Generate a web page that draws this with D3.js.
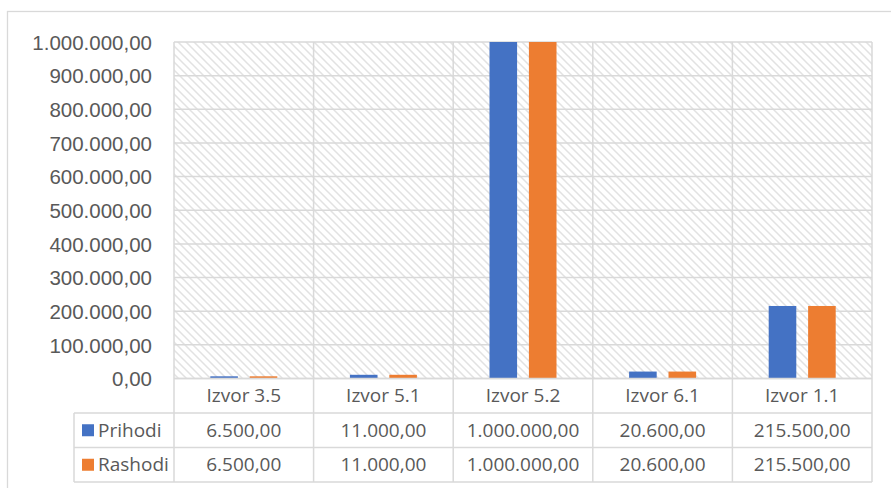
<!DOCTYPE html>
<html>
<head>
<meta charset="utf-8">
<script src="https://cdn.jsdelivr.net/npm/d3@7"></script>
<style>
  body { margin: 0; background: #fff; }
  svg { display: block; font-family: "Open Sans", sans-serif; }
</style>
</head>
<body>
<div id="chart"></div>
<script>
// data
var categories = ["Izvor 3.5", "Izvor 5.1", "Izvor 5.2", "Izvor 6.1", "Izvor 1.1"];
var seriesNames = ["Prihodi", "Rashodi"];
var seriesColors = ["#4472c4", "#ed7d31"];
var prihodi = [6500, 11000, 1000000, 20600, 215500];
var rashodi = [6500, 11000, 1000000, 20600, 215500];
var yTicks = [0, 100000, 200000, 300000, 400000, 500000, 600000, 700000, 800000, 900000, 1000000];

(function() {
  var W = 891, H = 488;
  var plotLeft = 174, plotRight = 872, plotTop = 42, base = 378.5;
  var rowH = 34.5, legLeft = 74;
  var grid = "#d9d9d9", txt = "#595959";

  var loc = d3.formatLocale({decimal: ",", thousands: ".", grouping: [3], currency: ["", ""]});
  var fmt = loc.format(",.2f");

  var svg = d3.select("#chart").append("svg")
    .attr("width", W).attr("height", H);

  // hatch pattern (wide downward diagonal)
  var pat = svg.append("defs").append("pattern")
    .attr("id", "hatch")
    .attr("patternUnits", "userSpaceOnUse")
    .attr("width", 8).attr("height", 8);
  pat.append("rect").attr("width", 8).attr("height", 8).attr("fill", "#fff");
  pat.append("path")
    .attr("d", "M-2,-2L10,10M-2,6L2,10M6,-2L10,2")
    .attr("stroke", "#e2e2e2").attr("stroke-width", 1.5);

  // chart border
  svg.append("rect")
    .attr("x", 7.5).attr("y", 11.5)
    .attr("width", W + 20).attr("height", H + 20)
    .attr("fill", "#fff").attr("stroke", grid).attr("stroke-width", 1.3);

  var x0 = d3.scaleBand().domain(categories).range([plotLeft, plotRight]).padding(0);
  var bw = x0.bandwidth();
  var x1 = d3.scaleBand().domain(seriesNames)
    .range([bw / 2 - 33.5, bw / 2 + 33.5]).paddingInner(0.3);
  var y = d3.scaleLinear().domain([0, 1000000]).range([base, plotTop]);

  // plot area
  svg.append("rect")
    .attr("x", plotLeft).attr("y", plotTop)
    .attr("width", plotRight - plotLeft).attr("height", base - plotTop)
    .attr("fill", "url(#hatch)");

  // gridlines
  svg.append("g").selectAll("line")
    .data(yTicks)
    .join("line")
    .attr("x1", plotLeft).attr("x2", plotRight)
    .attr("y1", function(d) { return y(d); })
    .attr("y2", function(d) { return y(d); })
    .attr("stroke", grid).attr("stroke-width", 1.5);

  // vertical category lines through plot and table
  svg.append("g").selectAll("line")
    .data(d3.range(categories.length + 1))
    .join("line")
    .attr("x1", function(i) { return plotLeft + i * bw; })
    .attr("x2", function(i) { return plotLeft + i * bw; })
    .attr("y1", plotTop)
    .attr("y2", base + rowH * 3)
    .attr("stroke", grid).attr("stroke-width", 1.5);

  // y axis labels
  var yAxis = d3.axisLeft(y).tickValues(yTicks).tickFormat(fmt).tickSize(0).tickPadding(0);
  var yg = svg.append("g").attr("transform", "translate(152,0)").call(yAxis);
  yg.select(".domain").remove();
  yg.selectAll("text")
    .attr("fill", txt).style("font-size", "20.5px").attr("dy", "0.35em");

  // bars
  var seriesData = [prihodi, rashodi];
  var groups = svg.append("g").selectAll("g")
    .data(seriesData)
    .join("g")
    .attr("fill", function(d, i) { return seriesColors[i]; });
  groups.selectAll("rect")
    .data(function(d, i) {
      return d.map(function(v, j) { return {cat: categories[j], s: seriesNames[i], v: v}; });
    })
    .join("rect")
    .attr("x", function(d) { return x0(d.cat) + x1(d.s); })
    .attr("width", x1.bandwidth())
    .attr("y", function(d) { return y(d.v); })
    .attr("height", function(d) { return base - y(d.v); });

  // data table
  var tbl = svg.append("g");
  [0, 1, 2, 3].forEach(function(r) {
    tbl.append("line")
      .attr("x1", r === 0 ? plotLeft : legLeft).attr("x2", plotRight)
      .attr("y1", base + r * rowH).attr("y2", base + r * rowH)
      .attr("stroke", grid).attr("stroke-width", 1.5);
  });
  tbl.append("line")
    .attr("x1", legLeft).attr("x2", legLeft)
    .attr("y1", base + rowH).attr("y2", base + rowH * 3)
    .attr("stroke", grid).attr("stroke-width", 1.5);

  tbl.selectAll("text.cat")
    .data(categories)
    .join("text")
    .attr("class", "cat")
    .attr("x", function(d) { return x0(d) + bw / 2; })
    .attr("y", base + rowH / 2)
    .attr("dy", "0.35em")
    .attr("text-anchor", "middle")
    .attr("fill", txt).style("font-size", "19px")
    .text(function(d) { return d; });

  seriesData.forEach(function(vals, i) {
    var cy = base + rowH * (i + 1) + rowH / 2;
    tbl.append("rect")
      .attr("x", 82).attr("y", cy - 6)
      .attr("width", 12).attr("height", 12)
      .attr("fill", seriesColors[i]);
    tbl.append("text")
      .attr("x", 98).attr("y", cy).attr("dy", "0.35em")
      .attr("fill", txt).style("font-size", "19px")
      .text(seriesNames[i]);
    tbl.selectAll("text.v" + i)
      .data(vals)
      .join("text")
      .attr("class", "v" + i)
      .attr("x", function(d, j) { return x0(categories[j]) + bw / 2; })
      .attr("y", cy).attr("dy", "0.35em")
      .attr("text-anchor", "middle")
      .attr("fill", txt).style("font-size", "19px")
      .text(function(d) { return fmt(d); });
  });
})();
</script>
</body>
</html>
